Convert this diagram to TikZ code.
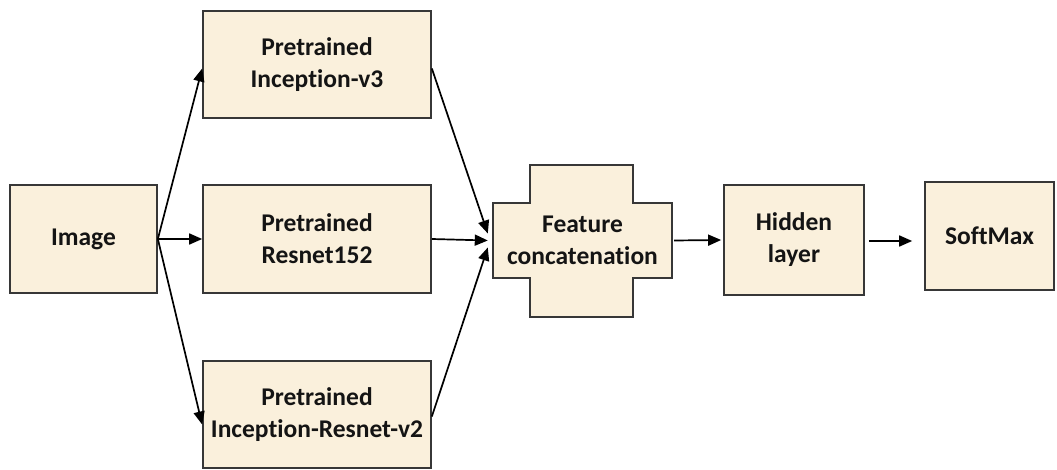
\documentclass[tikz,border=0pt]{standalone}
\usepackage{fontspec}
\setmainfont{Carlito}[Ligatures=NoCommon]
\usetikzlibrary{arrows.meta,calc}
\definecolor{boxfill}{RGB}{250,240,220}
\definecolor{boxline}{RGB}{55,55,55}
\definecolor{txtcol}{RGB}{20,20,20}
\tikzset{
  box/.style={draw=boxline, fill=boxfill, line width=1.7pt, align=center,
    font=\fontsize{25.5}{32}\selectfont\bfseries, text=txtcol, inner sep=0pt},
  txt/.style={align=center, font=\fontsize{25.5}{32}\selectfont\bfseries, text=txtcol, inner sep=0pt},
  conn/.style={line width=1.7pt, -{Triangle[length=13pt,width=11pt]}}
}
\begin{document}
\begin{tikzpicture}[x=1pt,y=-1pt]
\useasboundingbox (0,0) rectangle (1057,470);
\node[box, minimum width=147pt, minimum height=108pt] (img) at (83.5,239) {Image};
\node[box, minimum width=228pt, minimum height=107pt] (inc3) at (317,64.5) {Pretrained\\Inception-v3};
\node[box, minimum width=228pt, minimum height=108pt] (res) at (317,239) {Pretrained\\Resnet152};
\node[box, minimum width=228pt, minimum height=107pt] (irv2) at (317,414.5) {Pretrained\\Inception-Resnet-v2};
% cross shape
\draw[draw=boxline, fill=boxfill, line width=1.7pt]
  (530,165) -- (633,165) -- (633,203) -- (672,203) -- (672,278) -- (633,278)
  -- (633,317) -- (530,317) -- (530,278) -- (493,278) -- (493,203) -- (530,203) -- cycle;
\node[txt, minimum width=179pt, minimum height=75pt] (fc) at (582.5,240.5) {Feature\\concatenation};
\node[box, minimum width=140pt, minimum height=110pt] (hid) at (794,240) {Hidden\\layer};
\node[box, minimum width=129pt, minimum height=108pt] (sm) at (989.5,236) {SoftMax};
% connectors
\draw[conn] (img.east) -- ([yshift=-4pt]inc3.west);
\draw[conn] (img.east) -- (res.west);
\draw[conn] (img.east) -- ([yshift=-10pt]irv2.west);
\draw[conn] ([yshift=-4pt]inc3.east) -- ([xshift=-5pt,yshift=7pt]fc.west);
\draw[conn] (res.east) -- ([xshift=-5pt]fc.west);
\draw[conn] ([yshift=-2pt]irv2.east) -- ([xshift=-5pt,yshift=-7pt]fc.west);
\draw[conn] ([xshift=2pt]fc.east) -- ([xshift=-2pt]hid.west);
\draw[conn] ([xshift=4pt]hid.east |- 0,241) -- ([xshift=-12pt]sm.west |- 0,241);
\end{tikzpicture}
\end{document}
